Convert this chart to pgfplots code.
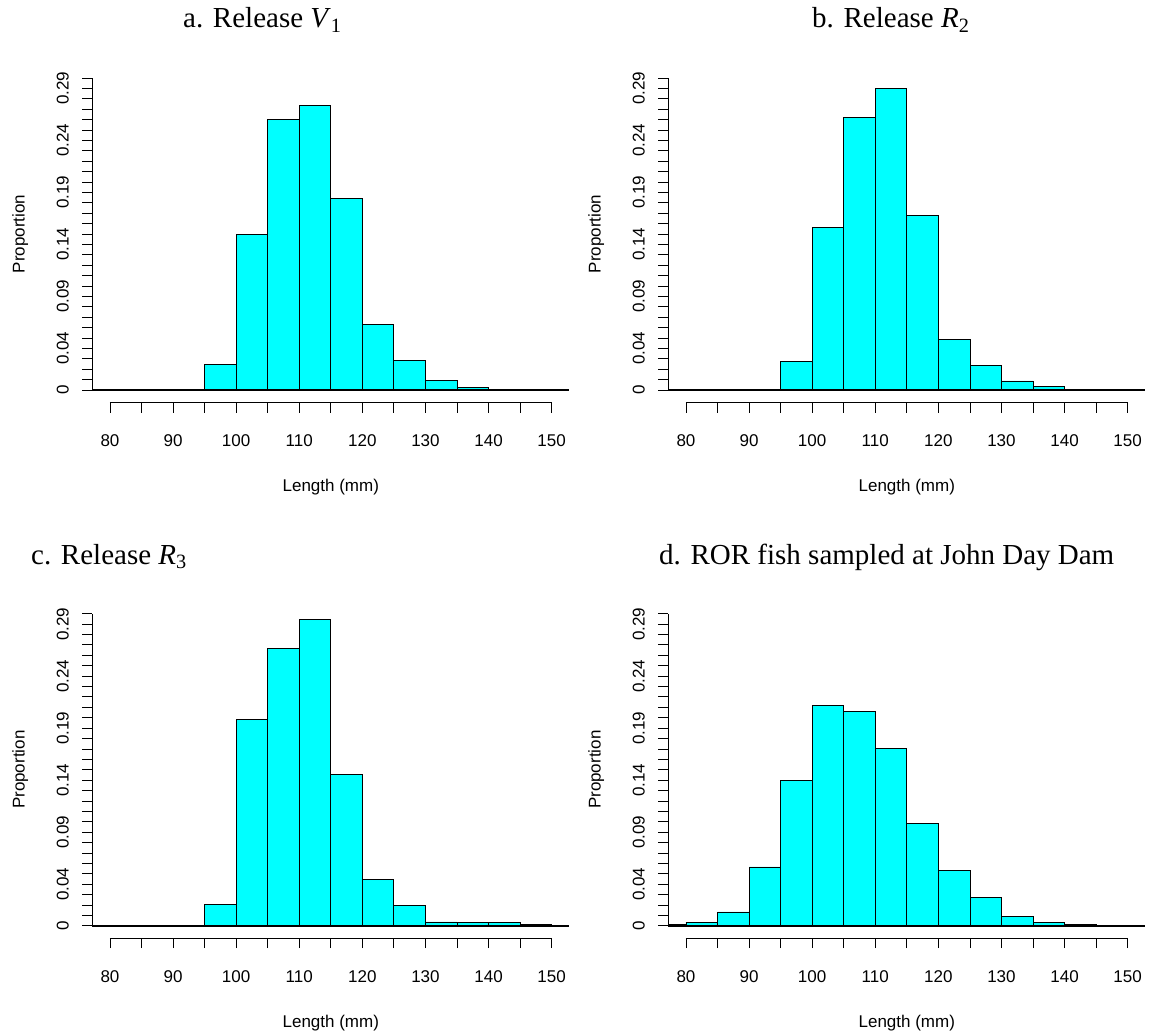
\documentclass[border=0pt]{standalone}
\usepackage{fontspec}
\setmainfont{Liberation Sans}
\newfontfamily\timesfont{Liberation Serif}
\usepackage{pgfplots}
\pgfplotsset{compat=1.18}
\definecolor{rcyan}{RGB}{0,255,255}
\pgfplotsset{
  histax/.style={
    scale only axis, width=477pt, height=337pt,
    xmin=77.2, xmax=152.8, ymin=-0.012, ymax=0.312,
    axis lines*=left, axis line style={draw=none},
    tick align=outside, tick pos=left,
    xtick={80,90,...,150}, minor xtick={85,95,...,145},
    xticklabels={80,90,100,110,120,130,140,150},
    ytick={0,0.04,0.09,0.14,0.19,0.24,0.29},
    yticklabels={0,0.04,0.09,0.14,0.19,0.24,0.29},
    minor ytick={0.01,0.02,0.03,0.04,0.05,0.06,0.07,0.08,0.09,0.10,0.11,0.12,0.13,0.14,0.15,0.16,0.17,0.18,0.19,0.20,0.21,0.22,0.23,0.24,0.25,0.26,0.27,0.28,0.29,0.30},
    major tick length=10pt, minor tick length=10pt,
    every tick/.style={black, line width=0.8pt},
    scaled y ticks=false,
    tick label style={font=\fontsize{17}{17}\selectfont},
    xticklabel shift=19pt,
    yticklabel shift=10pt,
    yticklabel style={rotate=90, anchor=south},
    every axis x label/.style={at={(axis description cs:0.5,0)}, anchor=center, yshift=-84.5pt, font=\fontsize{17}{17}\selectfont},
    every axis y label/.style={at={(axis description cs:0,0.5)}, xshift=-72pt, rotate=90, anchor=center, font=\fontsize{17}{17}\selectfont},
    xlabel={Length (mm)}, ylabel={Proportion},
    clip=false,
  },
  histbar/.style={ybar interval, fill=rcyan, draw=black, line width=0.8pt},
}
\newcommand{\axdeco}{%
  \draw[line width=0.8pt] (axis cs:80,-0.012) -- (axis cs:150,-0.012);
  \draw[line width=0.8pt] (axis cs:77.2,0) -- (axis cs:77.2,0.30);
  \addplot[black, line width=1.6pt] coordinates {(77.2,0) (152.8,0)};
}
\begin{document}
\begin{tikzpicture}
\useasboundingbox (0,0) rectangle (1151pt,-1035pt);
% a
\begin{axis}[histax, at={(92.3pt,-402.5pt)}, anchor=south west]
\addplot[histbar] coordinates {(95,0.0247) (100,0.1497) (105,0.2603) (110,0.2734) (115,0.1840) (120,0.0631) (125,0.0288) (130,0.0090) (135,0.0026) (140,0)};
\axdeco
\end{axis}
% b
\begin{axis}[histax, at={(668.3pt,-402.5pt)}, anchor=south west]
\addplot[histbar] coordinates {(95,0.0273) (100,0.1567) (105,0.2619) (110,0.2898) (115,0.1680) (120,0.0485) (125,0.0235) (130,0.0087) (135,0.0033) (140,0)};
\axdeco
\end{axis}
% c
\begin{axis}[histax, at={(92.3pt,-938.2pt)}, anchor=south west]
\addplot[histbar] coordinates {(95,0.0206) (100,0.1985) (105,0.2670) (110,0.2946) (115,0.1456) (120,0.0446) (125,0.0196) (130,0.0036) (135,0.0029) (140,0.0029) (145,0.0016) (150,0)};
\axdeco
\end{axis}
% d
\begin{axis}[histax, at={(668.3pt,-938.2pt)}, anchor=south west]
\addplot[histbar] coordinates {(77.2,0.0016) (80,0.0035) (85,0.0132) (90,0.0565) (95,0.1394) (100,0.2116) (105,0.2058) (110,0.1703) (115,0.0984) (120,0.0532) (125,0.0268) (130,0.0090) (135,0.0035) (140,0.0013) (145,0)};
\axdeco
\end{axis}
\begin{scope}[every node/.style={inner sep=0pt, anchor=base west, font=\timesfont\fontsize{29}{29}\selectfont}]
\node at (183pt,-28pt) {a. Release \textit{V}\textsubscript{1}};
\node at (812pt,-28pt) {b. Release \textit{R}\textsubscript{2}};
\node at (31pt,-564pt) {c. Release \textit{R}\textsubscript{3}};
\node at (659pt,-564pt) {d. ROR fish sampled at John Day Dam};
\end{scope}
\end{tikzpicture}
\end{document}
